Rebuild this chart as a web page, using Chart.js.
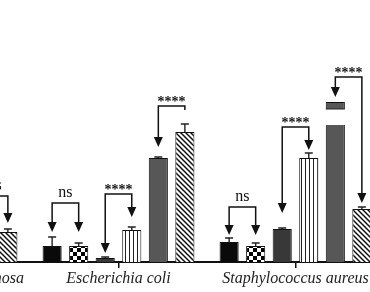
<!DOCTYPE html>
<html>
<head>
<meta charset="utf-8">
<script src="https://cdn.jsdelivr.net/npm/chart.js@4.4.1/dist/chart.umd.min.js"></script>
<style>
  html, body { margin: 0; padding: 0; background: #fff; overflow: hidden; }
  body { width: 370px; height: 292px; position: relative; }
  #wrap { position: absolute; left: -147px; top: 0; width: 531px; height: 292px; }
</style>
</head>
<body>
<div id="wrap"><canvas id="bacteriaChart"></canvas></div>
<script>
// groups (first one is cut off on the left in the original figure)
const categories = ['Pseudomonas aeruginosa', 'Escherichia coli', 'Staphylococcus aureus'];

// six treatments per group (no y axis shown)
const seriesBlack   = [null, 16, 20];
const seriesChecker = [null, 16, 16];
const seriesDark    = [null, 4, 33];
const seriesStripe  = [null, 32, 104];
const seriesGray    = [null, 104, 160];
const seriesHatch   = [30, 130, 53];

const errBlack   = [null, 9, 4];
const errChecker = [null, 3, 3];
const errDark    = [null, 1, 1];
const errStripe  = [null, 3, 5];
const errGray    = [null, 1, 0];
const errHatch   = [3, 8, 2];

// broken axis on the tall S. aureus bar
const axisBreak = [137, 153];

// significance brackets: group, bar from/to, label, bracket level, arrow tips
const brackets = [
    { cat: 0, from: 4, to: 5, label: 'ns',   level: 66,  tipA: 39,  tipB: 39 },
    { cat: 1, from: 0, to: 1, label: 'ns',   level: 59,  tipA: 30,  tipB: 30 },
    { cat: 1, from: 2, to: 3, label: '****', level: 68,  tipA: 9,   tipB: 45 },
    { cat: 1, from: 4, to: 5, label: '****', level: 156, tipA: 115, tipB: 152, noArrowB: true },
    { cat: 2, from: 0, to: 1, label: 'ns',   level: 55,  tipA: 27,  tipB: 27 },
    { cat: 2, from: 2, to: 3, label: '****', level: 135, tipA: 49,  tipB: 112 },
    { cat: 2, from: 4, to: 5, label: '****', level: 185, tipA: 165, tipB: 59 },
];

function makePattern(w, h, draw) {
    const c = document.createElement('canvas');
    c.width = w; c.height = h;
    const g = c.getContext('2d');
    g.fillStyle = '#fff';
    g.fillRect(0, 0, w, h);
    draw(g);
    return document.createElement('canvas').getContext('2d').createPattern(c, 'repeat');
}

const checker = makePattern(8, 8, g => {
    g.fillStyle = '#000';
    g.fillRect(0, 0, 4, 4);
    g.fillRect(4, 4, 4, 4);
});
const stripes = makePattern(4, 4, g => {
    g.fillStyle = '#222';
    g.fillRect(0, 0, 1, 4);
});
const hatch = makePattern(5, 5, g => {
    g.strokeStyle = '#111';
    g.lineWidth = 1.5;
    g.beginPath();
    g.moveTo(-1, -1); g.lineTo(6, 6);
    g.moveTo(4, -1); g.lineTo(6, 1);
    g.moveTo(-1, 4); g.lineTo(1, 6);
    g.stroke();
});

const errors = [errBlack, errChecker, errDark, errStripe, errGray, errHatch];

const extrasPlugin = {
    id: 'extras',
    afterDatasetsDraw(chart) {
        const ctx = chart.ctx;
        const y = chart.scales.y;
        ctx.save();

        // axis break
        const cut = chart.getDatasetMeta(4).data[2];
        const half = cut.width / 2 + 1;
        const yTop = y.getPixelForValue(axisBreak[1]);
        const yBot = y.getPixelForValue(axisBreak[0]);
        ctx.fillStyle = '#fff';
        ctx.fillRect(cut.x - half, yTop, half * 2, yBot - yTop);
        ctx.strokeStyle = '#222';
        ctx.lineWidth = 1;
        ctx.beginPath();
        ctx.moveTo(cut.x - half + 1, yTop); ctx.lineTo(cut.x + half - 1, yTop);
        ctx.stroke();

        // error bars
        ctx.strokeStyle = '#222';
        ctx.lineWidth = 1.4;
        errors.forEach((errs, d) => {
            const meta = chart.getDatasetMeta(d);
            const vals = chart.data.datasets[d].data;
            errs.forEach((e, i) => {
                if (e == null || vals[i] == null || !e) return;
                const bar = meta.data[i];
                const y0 = y.getPixelForValue(vals[i]);
                const y1 = y.getPixelForValue(vals[i] + e);
                ctx.beginPath();
                ctx.moveTo(bar.x, y0); ctx.lineTo(bar.x, y1);
                ctx.moveTo(bar.x - 4, y1); ctx.lineTo(bar.x + 4, y1);
                ctx.stroke();
            });
        });

        // brackets
        const arrow = (x, tip) => {
            ctx.beginPath();
            ctx.moveTo(x, tip);
            ctx.lineTo(x - 4.5, tip - 10);
            ctx.lineTo(x + 4.5, tip - 10);
            ctx.closePath();
            ctx.fill();
        };
        ctx.fillStyle = '#111';
        ctx.strokeStyle = '#111';
        ctx.lineWidth = 1.5;
        brackets.forEach(b => {
            const xa = chart.getDatasetMeta(b.from).data[b.cat].x;
            const xb = chart.getDatasetMeta(b.to).data[b.cat].x;
            const yl = y.getPixelForValue(b.level);
            const ya = y.getPixelForValue(b.tipA);
            const yb = y.getPixelForValue(b.tipB);
            ctx.beginPath();
            ctx.moveTo(xa, ya - 9);
            ctx.lineTo(xa, yl);
            ctx.lineTo(xb, yl);
            ctx.lineTo(xb, b.noArrowB ? yb : yb - 9);
            ctx.stroke();
            arrow(xa, ya);
            if (!b.noArrowB) arrow(xb, yb);

            ctx.textAlign = 'center';
            ctx.textBaseline = 'alphabetic';
            if (b.label === 'ns') {
                ctx.font = '16px "Liberation Serif"';
                ctx.fillText(b.label, (xa + xb) / 2, yl - 6);
            } else {
                ctx.font = 'bold 14px "Liberation Serif"';
                ctx.fillText(b.label, (xa + xb) / 2, yl);
            }
        });
        ctx.restore();
    }
};

const ctx = document.getElementById('bacteriaChart').getContext('2d');
const bacteriaChart = new Chart(ctx, {
    type: 'bar',
    data: {
        labels: categories,
        datasets: [
            { data: seriesBlack,   backgroundColor: '#0a0a0a' },
            { data: seriesChecker, backgroundColor: checker },
            { data: seriesDark,    backgroundColor: '#383838' },
            { data: seriesStripe,  backgroundColor: stripes },
            { data: seriesGray,    backgroundColor: '#575757' },
            { data: seriesHatch,   backgroundColor: hatch },
        ].map(ds => Object.assign(ds, {
            borderColor: '#111',
            borderWidth: 1,
            categoryPercentage: 0.9,
            barPercentage: 0.72,
        }))
    },
    options: {
        responsive: true,
        maintainAspectRatio: false,
        animation: false,
        layout: { padding: 0 },
        plugins: {
            legend: { display: false },
            tooltip: { enabled: false },
        },
        scales: {
            x: {
                afterFit(scale) { scale.height = 30; },
                border: { display: true, color: '#111', width: 2 },
                grid: {
                    offset: false,
                    drawOnChartArea: false,
                    drawTicks: true,
                    tickLength: 6,
                    color: '#111',
                    lineWidth: 1.5,
                },
                ticks: {
                    autoSkip: false,
                    maxRotation: 0,
                    padding: 1,
                    color: '#222',
                    font: { family: 'Liberation Serif', style: 'italic', size: 16 },
                },
            },
            y: {
                display: false,
                min: 0,
                max: 262,
            },
        },
    },
    plugins: [extrasPlugin],
});
</script>
</body>
</html>
